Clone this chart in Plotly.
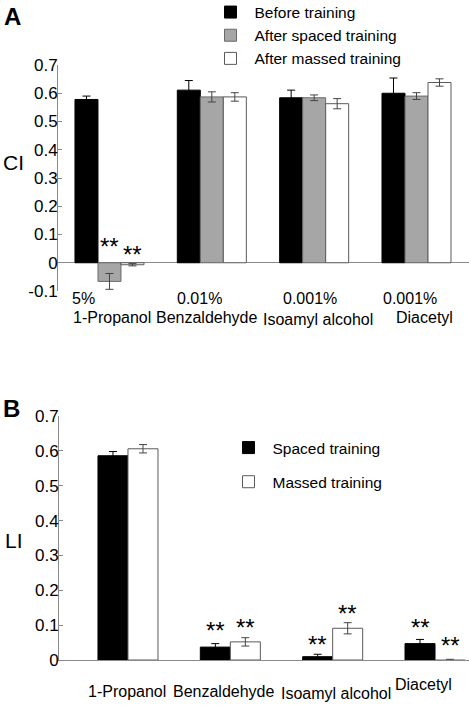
import plotly.graph_objects as go

W, H = 469, 727
FONT = "Liberation Sans, Arial, Helvetica, sans-serif"

# ---------------- Panel A data (CI) ----------------
odors = ["1-Propanol", "Benzaldehyde", "Isoamyl alcohol", "Diacetyl"]
concA = ["5%", "0.01%", "0.001%", "0.001%"]
seriesA = ["Before training", "After spaced training", "After massed training"]
ci_before = [0.578, 0.611, 0.584, 0.600]
ci_before_err = [0.012, 0.034, 0.027, 0.054]
ci_spaced = [-0.066, 0.587, 0.584, 0.590]
ci_spaced_err = [0.028, 0.018, 0.010, 0.012]
ci_massed = [-0.007, 0.587, 0.563, 0.638]
ci_massed_err = [0.004, 0.015, 0.018, 0.013]
ci_tickvals = [-0.1, 0, 0.1, 0.2, 0.3, 0.4, 0.5, 0.6, 0.7]
ci_ticktext = ["-0.1", "0", "0.1", "0.2", "0.3", "0.4", "0.5", "0.6", "0.7"]

# ---------------- Panel B data (LI) ----------------
seriesB = ["Spaced training", "Massed training"]
li_spaced = [0.586, 0.037, 0.0095, 0.047]
li_spaced_err = [0.012, 0.010, 0.007, 0.012]
li_massed = [0.606, 0.052, 0.091, -0.0095]
li_massed_err = [0.012, 0.012, 0.016, 0.0115]
li_tickvals = [0, 0.1, 0.2, 0.3, 0.4, 0.5, 0.6, 0.7]
li_ticktext = ["0", "0.1", "0.2", "0.3", "0.4", "0.5", "0.6", "0.7"]

# significance stars: (category index, series index, y of star centre)
starsA = [(0, 1, 0.067), (0, 2, 0.039)]
starsB = [(1, 0, 0.092), (1, 1, 0.102), (2, 0, 0.053), (2, 1, 0.143),
          (3, 0, 0.102), (3, 1, 0.049)]

# ---------------- styling ----------------
AX_COL = "#8a8a8a"
GRAY = "#a6a6a6"
wA = 0.2248
wB = 0.2932
fillsA = ["#000000", GRAY, "#ffffff"]
linesA = ["#000000", "#6a6a6a", "#5a5a5a"]
errA = ["#000000", "#444444", "#444444"]
fillsB = ["#000000", "#ffffff"]
linesB = ["#000000", "#5a5a5a"]
errB = ["#000000", "#444444"]
rangeA = [-0.503, 3.513]
rangeB = [-0.674, 3.332]

fig = go.Figure()

valsA = [ci_before, ci_spaced, ci_massed]
errsA = [ci_before_err, ci_spaced_err, ci_massed_err]
for i in range(3):
    fig.add_trace(go.Bar(
        x=odors, y=valsA[i], name=seriesA[i],
        width=wA, offset=(-1.5 + i) * wA,
        marker=dict(color=fillsA[i], line=dict(color=linesA[i], width=1)),
        error_y=dict(type="data", array=errsA[i], color=errA[i], thickness=1, width=4),
        xaxis="x", yaxis="y", legend="legend", legendgroup="a%d" % i,
    ))

valsB = [li_spaced, li_massed]
errsB = [li_spaced_err, li_massed_err]
for i in range(2):
    fig.add_trace(go.Bar(
        x=odors, y=valsB[i], name=seriesB[i],
        width=wB, offset=(-1 + i) * wB,
        marker=dict(color=fillsB[i], line=dict(color=linesB[i], width=1)),
        error_y=dict(type="data", array=errsB[i], color=errB[i], thickness=1, width=4),
        xaxis="x2", yaxis="y2", legend="legend2", legendgroup="b%d" % i,
        cliponaxis=False,
    ))

def py(pix):
    return 1 - pix / H

ann = []
ann.append(dict(text="<b>A</b>", x=12.5 / W, y=py(16.5), font=dict(size=24)))
ann.append(dict(text="<b>B</b>", x=11.5 / W, y=py(408), font=dict(size=24)))
ann.append(dict(text="CI", x=13 / W, y=py(162.5), font=dict(size=21)))
ann.append(dict(text="LI", x=13.5 / W, y=py(540), font=dict(size=21)))
for a in ann:
    a.update(xref="paper", yref="paper", showarrow=False, xanchor="center", yanchor="middle")

# significance stars
for (c, s, yv) in starsA:
    ann.append(dict(text="**", xref="x", yref="y", x=c + (-1 + s) * wA, y=yv, yshift=-3,
                    showarrow=False, xanchor="center", yanchor="middle", font=dict(size=24)))
for (c, s, yv) in starsB:
    ann.append(dict(text="**", xref="x2", yref="y2", x=c + (-0.5 + s) * wB, y=yv, yshift=-3,
                    showarrow=False, xanchor="center", yanchor="middle", font=dict(size=24)))

# category labels (anchored to the category positions of each axis)
labA_l1_dx = [-25.5, -12.5, -4, -6.5]
labA_l1_y = [299, 298, 298, 298]
labA_l2_dx = [3, -4.5, 4, 7.5]
labA_l2_y = [317, 317, 319, 317]
labB_dx = [-1, -6, 3, -12]
labB_y = [691, 691, 693, 684]
for k in range(4):
    ann.append(dict(text=concA[k], xref="x", yref="paper", x=k, xshift=labA_l1_dx[k],
                    y=py(labA_l1_y[k]), showarrow=False, xanchor="center",
                    yanchor="middle", font=dict(size=16)))
    ann.append(dict(text=odors[k], xref="x", yref="paper", x=k, xshift=labA_l2_dx[k],
                    y=py(labA_l2_y[k]), showarrow=False, xanchor="center",
                    yanchor="middle", font=dict(size=16)))
    ann.append(dict(text=odors[k], xref="x2", yref="paper", x=k, xshift=labB_dx[k],
                    y=py(labB_y[k]), showarrow=False, xanchor="center",
                    yanchor="middle", font=dict(size=16)))

fig.update_layout(
    width=W, height=H,
    margin=dict(l=0, r=0, t=0, b=0, autoexpand=False),
    paper_bgcolor="white", plot_bgcolor="white",
    font=dict(family=FONT, color="black", size=16),
    barmode="overlay",
    annotations=ann,
    xaxis=dict(domain=[58 / W, 1], range=rangeA, type="category",
               showticklabels=False, ticks="", showline=False, showgrid=False,
               zeroline=False, anchor="y"),
    yaxis=dict(domain=[py(291), py(65)], range=[-0.1, 0.7], anchor="x",
               tickvals=ci_tickvals, ticktext=ci_ticktext, ticks="inside", ticklen=4,
               tickcolor=AX_COL, showline=True, linecolor=AX_COL, linewidth=1,
               showgrid=False, zeroline=True, zerolinecolor=AX_COL, zerolinewidth=1,
               tickfont=dict(size=17), ticklabelstandoff=-4),
    xaxis2=dict(domain=[59 / W, 1], range=rangeB, type="category",
                showticklabels=False, ticks="", showline=True, linecolor=AX_COL,
                linewidth=1, showgrid=False, zeroline=False, anchor="y2"),
    yaxis2=dict(domain=[py(660), py(416)], range=[0, 0.7], anchor="x2",
                tickvals=li_tickvals, ticktext=li_ticktext, ticks="inside", ticklen=4,
                tickcolor=AX_COL, showline=True, linecolor=AX_COL, linewidth=1,
                showgrid=False, zeroline=False, tickfont=dict(size=17),
                ticklabelstandoff=-4),
    legend=dict(x=206.5 / W, y=1 + 4.5 / H, xanchor="left", yanchor="top",
                bgcolor="rgba(0,0,0,0)", borderwidth=0, font=dict(size=15.5),
                itemwidth=38, tracegroupgap=0, traceorder="normal"),
    legend2=dict(x=224.5 / W, y=py(431), xanchor="left", yanchor="top",
                 bgcolor="rgba(0,0,0,0)", borderwidth=0, font=dict(size=15.5),
                 itemwidth=38, tracegroupgap=11, traceorder="grouped"),
)

POST = "document.body.style.margin='0px';document.body.style.overflow='hidden';"
fig.write_html("out.html", config={"displayModeBar": False}, post_script=POST)
